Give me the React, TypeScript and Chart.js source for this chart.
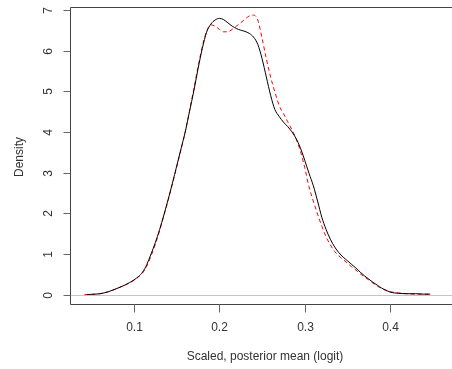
import React, { useEffect, useRef } from "react";
import { Chart, registerables } from "chart.js";

Chart.register(...registerables);

const blackX = [0.045, 0.05, 0.06, 0.07, 0.08, 0.09, 0.1, 0.105, 0.11, 0.115, 0.12, 0.125, 0.13, 0.135, 0.14, 0.145, 0.15, 0.155, 0.16, 0.165, 0.17, 0.175, 0.18, 0.185, 0.19, 0.195, 0.2, 0.205, 0.21, 0.215, 0.22, 0.225, 0.23, 0.235, 0.24, 0.245, 0.25, 0.255, 0.26, 0.265, 0.27, 0.275, 0.28, 0.285, 0.29, 0.295, 0.3, 0.305, 0.31, 0.315, 0.32, 0.325, 0.33, 0.335, 0.34, 0.345, 0.35, 0.355, 0.36, 0.365, 0.37, 0.375, 0.38, 0.385, 0.39, 0.395, 0.4, 0.405, 0.41, 0.42, 0.43, 0.44, 0.447];
const blackY = [0, 0.005, 0.02, 0.07, 0.15, 0.24, 0.36, 0.44, 0.55, 0.74, 1.0, 1.28, 1.6, 1.96, 2.34, 2.74, 3.16, 3.58, 4.0, 4.5, 5.0, 5.55, 6.05, 6.45, 6.65, 6.75, 6.79, 6.76, 6.68, 6.6, 6.54, 6.5, 6.47, 6.42, 6.33, 6.15, 5.8, 5.35, 4.9, 4.55, 4.38, 4.24, 4.13, 4.0, 3.83, 3.6, 3.3, 2.98, 2.68, 2.3, 1.9, 1.6, 1.36, 1.17, 1.03, 0.92, 0.83, 0.74, 0.65, 0.55, 0.46, 0.38, 0.3, 0.23, 0.16, 0.11, 0.06, 0.04, 0.03, 0.02, 0.02, 0.01, 0.01];

const redX = [0.042, 0.05, 0.06, 0.07, 0.08, 0.09, 0.1, 0.105, 0.11, 0.115, 0.12, 0.125, 0.13, 0.135, 0.14, 0.145, 0.15, 0.155, 0.16, 0.165, 0.17, 0.175, 0.18, 0.185, 0.19, 0.195, 0.2, 0.205, 0.21, 0.215, 0.22, 0.225, 0.23, 0.235, 0.24, 0.245, 0.25, 0.255, 0.26, 0.265, 0.27, 0.275, 0.28, 0.285, 0.29, 0.295, 0.3, 0.305, 0.31, 0.315, 0.32, 0.325, 0.33, 0.335, 0.34, 0.345, 0.35, 0.355, 0.36, 0.365, 0.37, 0.375, 0.38, 0.385, 0.39, 0.395, 0.4, 0.41, 0.42, 0.43, 0.445];
const redY = [0, 0.005, 0.02, 0.07, 0.15, 0.24, 0.35, 0.43, 0.53, 0.7, 0.95, 1.24, 1.57, 1.94, 2.32, 2.72, 3.14, 3.56, 4.0, 4.52, 5.05, 5.6, 6.1, 6.47, 6.63, 6.6, 6.52, 6.46, 6.46, 6.52, 6.6, 6.68, 6.77, 6.85, 6.87, 6.75, 6.3, 5.8, 5.35, 4.98, 4.65, 4.45, 4.25, 4.05, 3.82, 3.52, 3.12, 2.65, 2.3, 1.98, 1.68, 1.42, 1.22, 1.06, 0.95, 0.86, 0.77, 0.68, 0.6, 0.51, 0.43, 0.36, 0.28, 0.21, 0.15, 0.1, 0.07, 0.04, 0.02, 0.01, 0.01];

const xTicks = [0.1, 0.2, 0.3, 0.4];
const xTickLabels = ["0.1", "0.2", "0.3", "0.4"];
const yTicks = [0, 1, 2, 3, 4, 5, 6, 7];
const yTickLabels = ["0", "1", "2", "3", "4", "5", "6", "7"];
const xTitle = "Scaled, posterior mean (logit)";
const yTitle = "Density";

const FONT = "12px 'Liberation Sans', Arial, sans-serif";

const rAxesPlugin = {
  id: "rAxes",
  beforeDatasetsDraw(chart: any) {
    const { ctx, chartArea, scales } = chart;
    const y0 = Math.round(scales.y.getPixelForValue(0)) + 0.5;
    ctx.save();
    ctx.strokeStyle = "#c4c4c4";
    ctx.lineWidth = 1;
    ctx.beginPath();
    ctx.moveTo(chartArea.left, y0);
    ctx.lineTo(chartArea.right, y0);
    ctx.stroke();
    ctx.restore();
  },
  afterDraw(chart: any) {
    const { ctx, chartArea, scales } = chart;
    const L = Math.round(chartArea.left) + 0.5;
    const T = Math.round(chartArea.top) + 0.5;
    const B = Math.round(chartArea.bottom) - 0.5;
    const R = chartArea.right + 10;
    ctx.save();
    ctx.strokeStyle = "#444";
    ctx.lineWidth = 1;
    ctx.beginPath();
    ctx.moveTo(R, T);
    ctx.lineTo(L, T);
    ctx.lineTo(L, B);
    ctx.lineTo(R, B);
    ctx.stroke();

    ctx.strokeStyle = "#666";
    ctx.fillStyle = "#333";
    ctx.font = FONT;
    // y ticks
    yTicks.forEach((v, i) => {
      const py = Math.round(scales.y.getPixelForValue(v)) + 0.5;
      ctx.beginPath();
      ctx.moveTo(L - 7, py);
      ctx.lineTo(L, py);
      ctx.stroke();
      ctx.save();
      ctx.translate(49, py);
      ctx.rotate(-Math.PI / 2);
      ctx.textAlign = "center";
      ctx.textBaseline = "middle";
      ctx.fillText(yTickLabels[i], 0, 0);
      ctx.restore();
    });
    // x ticks
    xTicks.forEach((v, i) => {
      const px = Math.round(scales.x.getPixelForValue(v)) + 0.5;
      ctx.beginPath();
      ctx.moveTo(px, B);
      ctx.lineTo(px, B + 8);
      ctx.stroke();
      ctx.textAlign = "center";
      ctx.textBaseline = "middle";
      ctx.fillText(xTickLabels[i], px, 328);
    });
    // titles
    ctx.textAlign = "center";
    ctx.textBaseline = "middle";
    ctx.fillText(xTitle, 265, 357);
    ctx.save();
    ctx.translate(20, 157);
    ctx.rotate(-Math.PI / 2);
    ctx.fillText(yTitle, 0, 0);
    ctx.restore();
    ctx.restore();
  },
};

export default function App() {
  const ref = useRef<HTMLCanvasElement>(null);
  useEffect(() => {
    if (!ref.current) return;
    const chart = new Chart(ref.current, {
      type: "line",
      data: {
        datasets: [
          {
            label: "a",
            data: blackX.map((x, i) => ({ x, y: blackY[i] })),
            borderColor: "#000000",
            borderWidth: 1,
            pointRadius: 0,
            fill: false,
            cubicInterpolationMode: "monotone",
          },
          {
            label: "b",
            data: redX.map((x, i) => ({ x, y: redY[i] })),
            borderColor: "#ff0000",
            borderWidth: 1,
            borderDash: [4, 3],
            pointRadius: 0,
            fill: false,
            cubicInterpolationMode: "monotone",
          },
        ],
      },
      options: {
        responsive: false,
        animation: false,
        layout: { padding: { left: 70, top: 7, right: 0, bottom: 64 } },
        plugins: { legend: { display: false }, tooltip: { enabled: false } },
        scales: {
          x: { type: "linear", min: 0.025, max: 0.4725, display: false },
          y: { type: "linear", min: -0.257, max: 7.07, display: false },
        },
      },
      plugins: [rAxesPlugin],
    });
    return () => chart.destroy();
  }, []);
  return (
    <div style={{ position: "fixed", left: 0, top: 0, width: 452, height: 369, background: "#fff" }}>
      <canvas ref={ref} width={452} height={369} style={{ display: "block" }} />
    </div>
  );
}
